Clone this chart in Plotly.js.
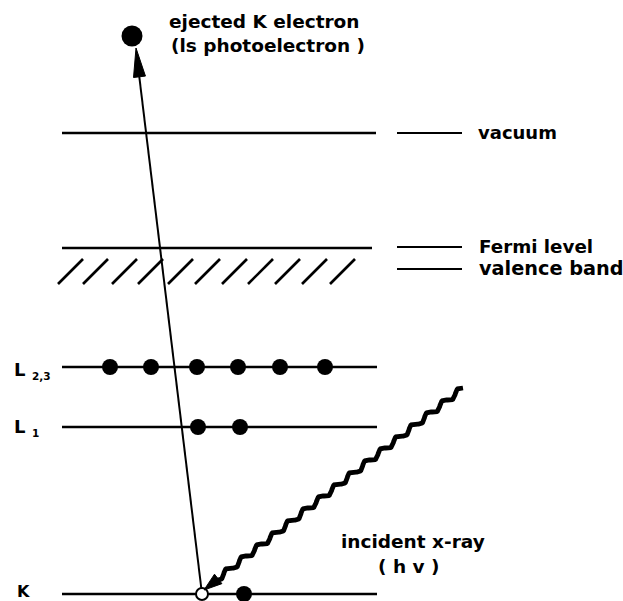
<!DOCTYPE html>
<html>
<head>
<meta charset="utf-8">
<script src="https://cdn.plot.ly/plotly-3.0.1.min.js"></script>
<style>html,body{margin:0;padding:0;background:#fff;}#chart{width:623px;height:601px;}</style>
</head>
<body>
<div id="chart"></div>
<script>
// ---- diagram data (energy levels on a page-like scale, top = high energy) ----
const levelNames = ['vacuum', 'Fermi level', 'L2,3', 'L1', 'K'];
const levelY = [133, 248, 367, 427, 594];
const levelStart = [62, 62, 62, 62, 62];
const levelEnd = [376, 372, 377, 377, 377];

const rightLabels = ['vacuum', 'Fermi level', 'valence band'];
const rightLabelY = [132, 246, 268];

const hatchTopX = [83, 108, 137, 163, 193, 220, 247, 273, 300, 327, 355];

const electronsL23 = [110, 151, 197, 238, 280, 325];
const electronsL1 = [198, 240];
const electronsK = [244];
const holeK = [202];

const ejectedElectron = {x: 132, y: 36};
const photoelectronTip = {x: 136, y: 48};
const xrayStart = {x: 463, y: 388};
const xrayTip = {x: 204, y: 590};

// ---- build traces ----
const traces = [];
const lineStyle = {color: '#000', width: 2.6};

// energy levels
for (let i = 0; i < levelY.length; i++) {
  traces.push({x: [levelStart[i], levelEnd[i]], y: [levelY[i], levelY[i]], mode: 'lines',
    line: lineStyle, hoverinfo: 'skip', showlegend: false});
}
// label dashes on the right
rightLabelY.forEach((y) => {
  traces.push({x: [397, 462], y: [y + 1, y + 1], mode: 'lines', line: {color: '#000', width: 2},
    hoverinfo: 'skip', showlegend: false});
});
// valence band hatching
const hx = [], hy = [];
hatchTopX.forEach(x => { hx.push(x, x - 25, null); hy.push(259, 284, null); });
traces.push({x: hx, y: hy, mode: 'lines', line: {color: '#000', width: 2.6}, hoverinfo: 'skip', showlegend: false});

// photoelectron path (K hole -> ejected)
traces.push({x: [holeK[0], photoelectronTip.x + 1.5], y: [levelY[4], photoelectronTip.y + 14],
  mode: 'lines', line: {color: '#000', width: 2}, hoverinfo: 'skip', showlegend: false});

// incident x-ray wavy line
(function () {
  const end = {x: 216, y: 580};
  const dx = end.x - xrayStart.x, dy = end.y - xrayStart.y;
  const len = Math.hypot(dx, dy);
  const ux = dx / len, uy = dy / len, px = -uy, py = ux;
  const periods = 16, n = 400, amp = 2.6;
  const wx = [], wy = [];
  for (let k = 0; k <= n; k++) {
    const t = k / n;
    const o = amp * Math.sin(2 * Math.PI * periods * t);
    wx.push(xrayStart.x + dx * t + px * o);
    wy.push(xrayStart.y + dy * t + py * o);
  }
  traces.push({x: wx, y: wy, mode: 'lines', line: {color: '#000', width: 4.8}, hoverinfo: 'skip', showlegend: false});
})();

// electrons
traces.push({x: electronsL23, y: electronsL23.map(() => levelY[2]), mode: 'markers',
  marker: {color: '#000', size: 16}, hoverinfo: 'skip', showlegend: false});
traces.push({x: electronsL1, y: electronsL1.map(() => levelY[3]), mode: 'markers',
  marker: {color: '#000', size: 16}, hoverinfo: 'skip', showlegend: false});
traces.push({x: electronsK, y: electronsK.map(() => levelY[4]), mode: 'markers',
  marker: {color: '#000', size: 16}, hoverinfo: 'skip', showlegend: false});
traces.push({x: holeK, y: holeK.map(() => levelY[4]), mode: 'markers',
  marker: {color: '#fff', size: 12, line: {color: '#000', width: 2}}, hoverinfo: 'skip', showlegend: false});
traces.push({x: [ejectedElectron.x], y: [ejectedElectron.y], mode: 'markers',
  marker: {color: '#000', size: 21}, hoverinfo: 'skip', showlegend: false});

// ---- arrowheads as path shapes ----
function arrowHead(tip, from, length, half) {
  const dx = tip.x - from.x, dy = tip.y - from.y, l = Math.hypot(dx, dy);
  const ux = dx / l, uy = dy / l;
  const bx = tip.x - ux * length, by = tip.y - uy * length;
  const px = -uy, py = ux;
  return `M ${tip.x} ${tip.y} L ${bx + px * half} ${by + py * half} L ${bx - px * half} ${by - py * half} Z`;
}
const shapes = [
  {type: 'path', xref: 'x', yref: 'y', path: arrowHead(photoelectronTip, {x: holeK[0], y: levelY[4]}, 29, 6),
    fillcolor: '#000', line: {color: '#000', width: 1}},
  {type: 'path', xref: 'x', yref: 'y', path: arrowHead(xrayTip, xrayStart, 18, 6),
    fillcolor: '#000', line: {color: '#000', width: 1}}
];

// ---- text ----
const F = 'DejaVu Sans, sans-serif';
function txt(x, y, text, size, anchor) {
  return {x, y, xref: 'x', yref: 'y', text, showarrow: false, xanchor: anchor || 'left', yanchor: 'middle',
    font: {family: F, size, color: '#000', weight: 'bold'}};
}
const annotations = [
  txt(167, 21, 'ejected K electron', 18.5),
  txt(169, 45, '(ls photoelectron )', 18.5),
  txt(476, rightLabelY[0], rightLabels[0], 18),
  txt(477, rightLabelY[1], rightLabels[1], 18.3),
  txt(477, rightLabelY[2], rightLabels[2], 19.3),
  txt(12, 369, 'L', 18),
  txt(30, 376, '2,3', 10.5),
  txt(12, 426, 'L', 18),
  txt(30, 433, '1', 10.5),
  txt(15, 591, 'K', 16),
  txt(339, 541, 'incident x-ray', 18.5),
  txt(376, 566, '( h v )', 18.5)
];

const layout = {
  width: 623, height: 601,
  margin: {l: 0, r: 0, t: 0, b: 0},
  paper_bgcolor: '#fff', plot_bgcolor: '#fff',
  xaxis: {range: [0, 623], visible: false, fixedrange: true},
  yaxis: {range: [601, 0], visible: false, fixedrange: true},
  shapes, annotations, showlegend: false
};
Plotly.newPlot('chart', traces, layout, {displayModeBar: false, staticPlot: true});
</script>
</body>
</html>
